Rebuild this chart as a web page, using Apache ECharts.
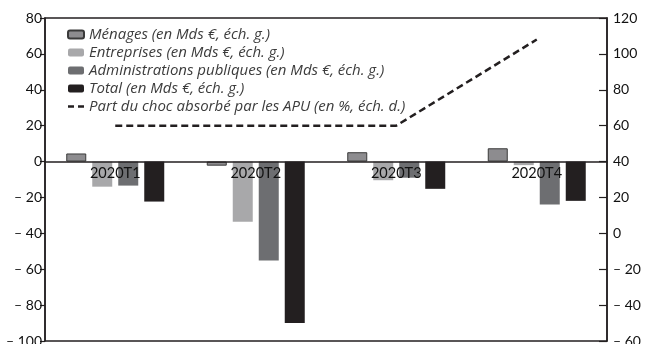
<!DOCTYPE html>
<html>
<head>
<meta charset="utf-8">
<script src="https://cdn.jsdelivr.net/npm/echarts@6/dist/echarts.min.js"></script>
<style>
  html, body { margin: 0; padding: 0; background: #fff; }
  #chart { width: 646px; height: 344px; }
</style>
</head>
<body>
<div id="chart"></div>
<script>
// Quarters
const categories = ['2020T1', '2020T2', '2020T3', '2020T4'];

// Shock by sector, in billions of euros (left axis)
const menages = [4.5, -2.3, 5.2, 7.4];
const entreprises = [-14, -33.6, -10.4, -2];
const apu = [-13.4, -55.2, -9, -24];
const total = [-22.3, -90, -15.2, -21.9];

// Share of the shock absorbed by public administrations, in % (right axis)
const partApu = [60, 60, 60, 108];

// Series names as shown in the legend
const names = [
  'Ménages (en Mds €, éch. g.)',
  'Entreprises (en Mds €, éch. g.)',
  'Administrations publiques (en Mds €, éch. g.)',
  'Total (en Mds €, éch. g.)',
  'Part du choc absorbé par les APU (en %, éch. d.)'
];

const FONT = 'Lato';
const LEGEND_FONT = 'Open Sans';
const INK = '#231f20';

const fmt = v => (v < 0 ? '\u2013 ' + Math.abs(v) : String(v));

const chart = echarts.init(document.getElementById('chart'), null, { renderer: 'canvas' });

const barBase = { type: 'bar', barWidth: 20, barGap: '30%', yAxisIndex: 0 };

chart.setOption({
  animation: false,
  backgroundColor: '#fff',
  grid: {
    left: 45, right: 39, top: 18, bottom: 3,
    outerBoundsMode: 'none', containLabel: false,
    show: true, borderColor: INK, borderWidth: 1.5, backgroundColor: 'transparent'
  },
  legend: {
    orient: 'vertical',
    left: 62, top: 22,
    itemWidth: 16, itemHeight: 8, itemGap: 3,
    textStyle: { fontFamily: LEGEND_FONT, fontStyle: 'italic', fontSize: 15, color: '#3c3c3c' },
    data: [
      { name: names[0] },
      { name: names[1] },
      { name: names[2] },
      { name: names[3] },
      { name: names[4], icon: 'path://M0,4 h6 v2.4 h-6 z M10,4 h6 v2.4 h-6 z', itemStyle: { color: INK, borderWidth: 0 } }
    ]
  },
  xAxis: {
    type: 'category',
    data: categories,
    z: 10,
    axisLine: { onZero: false, lineStyle: { color: INK, width: 1.5 } },
    axisTick: { show: false },
    axisLabel: { fontFamily: FONT, fontSize: 14.5, color: '#111', margin: 4 }
  },
  yAxis: [
    {
      type: 'value', min: -100, max: 80, interval: 20, position: 'left',
      axisLine: { show: true, onZero: false, lineStyle: { color: INK, width: 1.5 } },
      axisTick: { show: true, length: 5, lineStyle: { color: INK, width: 1.2 } },
      axisLabel: { fontFamily: FONT, fontSize: 14, color: '#111', margin: 3, formatter: fmt },
      splitLine: { show: false }
    },
    {
      type: 'value', min: -60, max: 120, interval: 20, position: 'right',
      axisLine: { show: true, onZero: false, lineStyle: { color: INK, width: 1.5 } },
      axisTick: { show: true, inside: true, length: 8, lineStyle: { color: INK, width: 1.2 } },
      axisLabel: { fontFamily: FONT, fontSize: 14, color: '#111', margin: 6, formatter: fmt },
      splitLine: { show: false }
    }
  ],
  series: [
    Object.assign({}, barBase, { name: names[0], data: menages,
      itemStyle: { color: '#8d8c8f', borderColor: '#3a3a3a', borderWidth: 1 } }),
    Object.assign({}, barBase, { name: names[1], data: entreprises,
      itemStyle: { color: '#a8a8aa' } }),
    Object.assign({}, barBase, { name: names[2], data: apu,
      itemStyle: { color: '#6d6e71' } }),
    Object.assign({}, barBase, { name: names[3], data: total,
      itemStyle: { color: INK } }),
    {
      type: 'line', name: names[4], data: partApu, yAxisIndex: 1,
      symbol: 'none', z: 5,
      lineStyle: { color: INK, width: 2.5, type: [7, 4] },
      itemStyle: { color: INK }
    }
  ]
});

// Lift the category axis (line and labels) up to the zero level of the left scale
const zeroY = chart.convertToPixel({ yAxisIndex: 0 }, 0);
const bottomY = chart.convertToPixel({ yAxisIndex: 0 }, -100);
chart.setOption({ xAxis: { offset: -(bottomY - zeroY) } });
</script>
</body>
</html>
